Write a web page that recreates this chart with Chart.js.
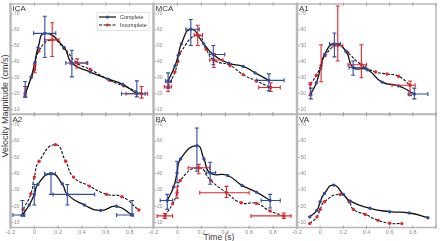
<!DOCTYPE html>
<html lang="en">
  <head>
    <meta charset="UTF-8" />
    <title>Velocity magnitude, complete vs incomplete</title>
    <style>
      * {
        margin: 0;
        padding: 0;
        box-sizing: border-box;
      }

      body {
        width: 440px;
        height: 241px;
        overflow: hidden;
        background: #fff;
        font-family: "Liberation Sans", Arial, sans-serif;
      }

      .stage {
        position: relative;
        width: 440px;
        height: 241px;
      }

      .stage canvas {
        position: absolute;
        left: 0;
        top: 0;
      }

      .yTitle {
        position: absolute;
        left: 5px;
        top: 106px;
        transform: translate(-50%, -50%) rotate(-90deg);
        white-space: nowrap;
        font-size: 9px;
        color: #3a3a3a;
      }

      .xTitle {
        position: absolute;
        left: 219px;
        top: 237px;
        transform: translate(-50%, -50%);
        white-space: nowrap;
        font-size: 8.5px;
        color: #3a3a3a;
      }
    </style>
  </head>
  <body>
    <div class="stage" id="stage">
      <div class="yTitle">Velocity Magnitude (cm/s)</div>
      <div class="xTitle">Time (s)</div>
    </div>

    <script src="https://cdn.jsdelivr.net/npm/chart.js"></script>

    <script>
      const panelNames = ["ICA", "MCA", "A1", "A2", "BA", "VA"];
      const timeTicks = [-0.2, 0, 0.2, 0.4, 0.6, 0.8, 1.0];
      const timeTickLabels = ["-0.2", "0", "0.2", "0.4", "0.6", "0.8", ""];
      const velocityTicks = [10, 20, 30, 40, 50, 60, 70];

      // points: [time (s), velocity (cm/s)]
      // error bars: [point index, time low, time high, velocity low, velocity high]
      const icaComplete = [[-0.077, 19.2], [-0.026, 30.4], [0.003, 39.1], [0.031, 48.7], [0.088, 57.8], [0.25, 48.9], [0.315, 39.1], [0.47, 33.4], [0.62, 29], [0.74, 25.7], [0.86, 19.8]];
      const icaIncomplete = [[-0.077, 20.2], [-0.026, 30], [0.003, 35], [0.037, 46.6], [0.15, 53.7], [0.25, 48.3], [0.36, 39.1], [0.47, 35], [0.63, 28.3], [0.75, 24.7], [0.9, 19.8]];
      const icaCompleteErr = [[0, null, null, 17.5, 27.5], [4, -0.006, 0.18, 42.6, 68.6], [6, 0.264, 0.448, 30.4, 47.2], [10, 0.732, 0.93, 17.8, 27.9]];
      const icaIncompleteErr = [[0, null, null, 17.8, 24.3], [2, null, null, 33, 38], [4, 0.085, 0.207, 43.2, 64.5], [6, 0.3, 0.44, 36, 41.7], [10, 0.77, 0.95, 17, 24.3]];

      const mcaComplete = [[-0.078, 27.8], [-0.021, 37.3], [0.007, 44], [0.033, 51.2], [0.112, 60.4], [0.22, 51.2], [0.3, 44.5], [0.43, 39], [0.55, 37], [0.65, 32.9], [0.765, 28.2]];
      const mcaIncomplete = [[-0.078, 24.1], [-0.021, 33.5], [0.004, 40], [0.018, 45], [0.17, 56.7], [0.24, 47.8], [0.305, 41], [0.44, 37.6], [0.55, 31.8], [0.66, 27.8], [0.78, 23.7]];
      const mcaCompleteErr = [[0, -0.1, -0.05, 23.3, 32.9], [4, 0.07, 0.183, 50.2, 66.5], [6, 0.268, 0.396, 38, 50.2], [10, 0.665, 0.892, 21.6, 32.3]];
      const mcaIncompleteErr = [[0, -0.11, -0.05, 21.2, 26.7], [4, 0.14, 0.21, 50.2, 62.9], [6, 0.27, 0.38, 36.3, 45.1], [10, 0.68, 0.86, 21.2, 26.7]];

      const a1Complete = [[-0.081, 19.6], [-0.033, 26.7], [0.004, 35.9], [0.038, 44.5], [0.123, 51.2], [0.223, 46.5], [0.285, 36.3], [0.407, 34.9], [0.535, 27.1], [0.677, 24.7], [0.813, 19.6]];
      const a1Incomplete = [[-0.085, 25.7], [-0.033, 31.4], [0.008, 37.6], [0.042, 43.7], [0.152, 50.2], [0.237, 45.7], [0.356, 38], [0.478, 33.5], [0.577, 32.2], [0.677, 30.8], [0.776, 25.1]];
      const a1CompleteErr = [[0, null, null, 16.5, 23.3], [4, 0.08, 0.175, 43, 58], [6, 0.25, 0.39, 31.4, 40.4], [10, 0.76, 0.93, 16.5, 23.3]];
      const a1IncompleteErr = [[0, null, null, 18.6, 26.7], [2, null, null, 27.3, 50.6], [4, 0.11, 0.195, 40.4, 75], [6, 0.24, 0.4, 29.8, 50.6], [10, 0.62, 0.82, 18.6, 27.8]];

      const a2Complete = [[-0.1, 14.7], [-0.043, 20.8], [0, 27.3], [0.029, 33.4], [0.14, 39.9], [0.234, 33.8], [0.277, 27.3], [0.42, 20.8], [0.557, 17.5], [0.69, 20], [0.82, 14.7]];
      const a2Incomplete = [[-0.094, 18.1], [-0.029, 27.7], [0, 37.9], [0.04, 47.6], [0.177, 57.8], [0.263, 47.6], [0.329, 37.9], [0.463, 32.4], [0.606, 27.3], [0.734, 25.9], [0.877, 17.7]];
      const a2CompleteErr = [[0, -0.18, -0.08, 14, 23.6], [2, null, null, 20.8, 33.4], [4, 0.086, 0.177, 27.3, 40.5], [6, 0.157, 0.506, 20.8, 33.4], [10, 0.69, 0.83, 14.2, 23.6]];
      const a2IncompleteErr = [];

      const baComplete = [[-0.085, 23.6], [-0.032, 31.8], [-0.003, 40.5], [0.026, 49], [0.163, 57.2], [0.222, 49], [0.274, 40.5], [0.42, 38.9], [0.54, 32.8], [0.66, 28.7], [0.775, 23.6]];
      const baIncomplete = [[-0.105, 14.1], [-0.04, 21.6], [-0.003, 28.3], [0.023, 35.8], [0.178, 43.6], [0.28, 35.8], [0.41, 28.3], [0.534, 22.2], [0.66, 21.8], [0.775, 17.1], [0.89, 14.1]];
      const baCompleteErr = [[0, -0.144, -0.04, 18.1, 27.3], [2, null, null, 34.4, 47.6], [4, null, null, 41.5, 68], [6, 0.24, 0.32, 33.5, 47], [10, 0.7, 0.86, 19, 27.3]];
      const baIncompleteErr = [[0, -0.17, -0.04, 12.6, 15.6], [2, null, null, 25, 32], [4, 0.09, 0.27, 40, 45.7], [6, 0.187, 0.6, 25.4, 32.2], [10, 0.615, 0.95, 12.6, 15.9]];

      const vaComplete = [[-0.09, 13.5], [-0.028, 17.5], [0, 22.8], [0.037, 27.9], [0.116, 33], [0.2, 27.3], [0.26, 23.2], [0.43, 18.8], [0.6, 16.7], [0.77, 15.9], [0.93, 13]];
      const vaIncomplete = [[-0.09, 9.4], [-0.028, 13.5], [0, 18.1], [0.037, 22.8], [0.173, 27.3], [0.25, 22.8], [0.287, 18.1], [0.39, 15], [0.5, 11.4], [0.6, 9.6], [0.705, 9.4]];
      const vaCompleteErr = [];
      const vaIncompleteErr = [];

      const panelSeries = [
        [icaComplete, icaIncomplete, icaCompleteErr, icaIncompleteErr],
        [mcaComplete, mcaIncomplete, mcaCompleteErr, mcaIncompleteErr],
        [a1Complete, a1Incomplete, a1CompleteErr, a1IncompleteErr],
        [a2Complete, a2Incomplete, a2CompleteErr, a2IncompleteErr],
        [baComplete, baIncomplete, baCompleteErr, baIncompleteErr],
        [vaComplete, vaIncomplete, vaCompleteErr, vaIncompleteErr],
      ];

      // page geometry (px)
      const colEdges = [10.5, 153.5, 297, 438];
      const rowEdges = [[1.5, 114], [114.5, 227.5]];

      const BLUE = "#2f4c9f";
      const RED = "#e3262c";
      const FRAME = "#b9b9b9";
      const TICK_TEXT = "#8a8a8a";

      function drawErrorBars(ctx, x, y, pts, errs, color) {
        ctx.save();
        ctx.strokeStyle = color;
        ctx.lineWidth = 1.1;
        const cap = 2;
        ctx.beginPath();
        errs.forEach(([i, tLo, tHi, vLo, vHi]) => {
          const px = x.getPixelForValue(pts[i][0]);
          const py = y.getPixelForValue(pts[i][1]);
          if (vLo !== null) {
            const y1 = y.getPixelForValue(vLo);
            const y2 = y.getPixelForValue(vHi);
            ctx.moveTo(px, y1); ctx.lineTo(px, y2);
            ctx.moveTo(px - cap, y1); ctx.lineTo(px + cap, y1);
            ctx.moveTo(px - cap, y2); ctx.lineTo(px + cap, y2);
          }
          if (tLo !== null) {
            const x1 = x.getPixelForValue(tLo);
            const x2 = x.getPixelForValue(tHi);
            ctx.moveTo(x1, py); ctx.lineTo(x2, py);
            ctx.moveTo(x1, py - cap); ctx.lineTo(x1, py + cap);
            ctx.moveTo(x2, py - cap); ctx.lineTo(x2, py + cap);
          }
        });
        ctx.stroke();
        ctx.restore();
      }

      const panelFrame = {
        id: "panelFrame",
        beforeDatasetsDraw(chart, args, opts) {
          const {
            ctx,
            chartArea: { top, bottom, left, right },
            scales: { x, y },
          } = chart;
          ctx.save();

          // top / bottom / right borders
          ctx.strokeStyle = FRAME;
          ctx.lineWidth = 1.5;
          ctx.beginPath();
          ctx.moveTo(left, top); ctx.lineTo(right, top);
          ctx.moveTo(left, bottom); ctx.lineTo(right, bottom);
          if (opts.lastCol) {
            ctx.moveTo(right, top); ctx.lineTo(right, bottom);
          }
          ctx.stroke();

          // x tick marks on both borders, y tick marks on the rail
          ctx.strokeStyle = "#9a9a9a";
          ctx.lineWidth = 0.8;
          ctx.beginPath();
          timeTicks.forEach((t) => {
            const px = x.getPixelForValue(t);
            ctx.moveTo(px, top - 1.5); ctx.lineTo(px, top + 2);
            ctx.moveTo(px, bottom - 2); ctx.lineTo(px, bottom + 1.5);
          });
          velocityTicks.forEach((v) => {
            const py = y.getPixelForValue(v);
            ctx.moveTo(left, py); ctx.lineTo(left + 3, py);
          });
          ctx.stroke();

          // y axis (thick light rail)
          ctx.strokeStyle = FRAME;
          ctx.lineWidth = 2.5;
          ctx.beginPath();
          ctx.moveTo(left, top - 1);
          ctx.lineTo(left, bottom + 1);
          ctx.stroke();

          // y tick labels, inside the panel
          ctx.fillStyle = TICK_TEXT;
          ctx.font = '5px "Liberation Sans", Arial, sans-serif';
          ctx.textAlign = "left";
          ctx.textBaseline = "middle";
          velocityTicks.forEach((v) => {
            ctx.fillText(String(v), left + 3.5, y.getPixelForValue(v));
          });

          // x tick labels below bottom row
          if (opts.bottomRow) {
            ctx.font = '5.5px "Liberation Sans", Arial, sans-serif';
            ctx.textAlign = "center";
            ctx.textBaseline = "top";
            timeTicks.forEach((t, i) => {
              ctx.fillText(timeTickLabels[i], x.getPixelForValue(t), bottom + 2);
            });
          }

          // panel name
          ctx.fillStyle = "#333";
          ctx.font = '8px "Liberation Sans", Arial, sans-serif';
          ctx.textAlign = "left";
          ctx.textBaseline = "top";
          ctx.fillText(opts.name, left + 2, top + 1);
          ctx.restore();
        },
        afterDatasetsDraw(chart, args, opts) {
          const {
            ctx,
            scales: { x, y },
          } = chart;
          const [comp, incomp, compErr, incompErr] = opts.series;
          drawErrorBars(ctx, x, y, incomp, incompErr, RED);
          drawErrorBars(ctx, x, y, comp, compErr, BLUE);

          if (opts.legend) {
            ctx.save();
            const bx = 97, by = 12.5, bw = 52, bh = 18;
            ctx.strokeStyle = "#d0d0d0";
            ctx.lineWidth = 0.6;
            ctx.strokeRect(bx, by, bw, bh);
            const rows = [
              { label: "Complete", dash: [], color: BLUE, y: by + 4.5 },
              { label: "Incomplete", dash: [3, 1.5], color: RED, y: by + 12.5 },
            ];
            rows.forEach((r) => {
              ctx.strokeStyle = "#111";
              ctx.lineWidth = 1.2;
              ctx.setLineDash(r.dash);
              ctx.beginPath();
              ctx.moveTo(bx + 2, r.y);
              ctx.lineTo(bx + 19, r.y);
              ctx.stroke();
              ctx.setLineDash([]);
              ctx.fillStyle = r.color;
              ctx.beginPath();
              ctx.arc(bx + 10.5, r.y, 1.6, 0, Math.PI * 2);
              ctx.fill();
              ctx.fillStyle = "#333";
              ctx.font = '5.5px "Liberation Sans", Arial, sans-serif';
              ctx.textAlign = "left";
              ctx.textBaseline = "middle";
              ctx.fillText(r.label, bx + 23, r.y);
            });
            ctx.restore();
          }
        },
      };

      const stage = document.getElementById("stage");

      panelNames.forEach((name, p) => {
        const col = p % 3;
        const row = Math.floor(p / 3);
        const [comp, incomp] = panelSeries[p];

        const canvas = document.createElement("canvas");
        canvas.width = 440;
        canvas.height = 241;
        stage.appendChild(canvas);

        new Chart(canvas, {
          type: "line",
          data: {
            datasets: [
              {
                label: "Complete",
                data: comp.map(([t, v]) => ({ x: t, y: v })),
                borderColor: "#111",
                borderWidth: 1.3,
                tension: 0.55,
                pointRadius: 1.7,
                pointBorderWidth: 0,
                pointBackgroundColor: BLUE,
                fill: false,
                clip: false,
              },
              {
                label: "Incomplete",
                data: incomp.map(([t, v]) => ({ x: t, y: v })),
                borderColor: "#111",
                borderWidth: 1.1,
                borderDash: [3, 1.5],
                tension: 0.55,
                pointRadius: 1.7,
                pointBorderWidth: 0,
                pointBackgroundColor: RED,
                fill: false,
                clip: false,
              },
            ],
          },
          options: {
            responsive: false,
            animation: false,
            events: [],
            layout: {
              padding: {
                left: colEdges[col],
                right: 440 - colEdges[col + 1],
                top: rowEdges[row][0],
                bottom: 241 - rowEdges[row][1],
              },
            },
            scales: {
              x: { type: "linear", min: -0.2, max: 1.0, display: false },
              y: { min: 7, max: 76.3, display: false },
            },
            plugins: {
              legend: { display: false },
              tooltip: { enabled: false },
              panelFrame: {
                name: name,
                series: panelSeries[p],
                bottomRow: row === 1,
                lastCol: col === 2,
                legend: p === 0,
              },
            },
          },
          plugins: [panelFrame],
        });
      });
    </script>
  </body>
</html>
